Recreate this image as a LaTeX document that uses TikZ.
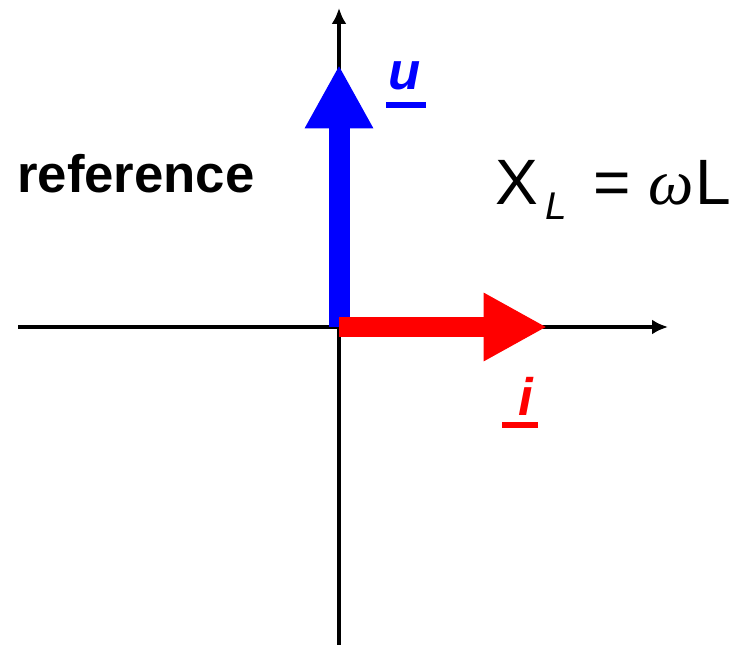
\documentclass[tikz,border=0pt]{standalone}
\usepackage{fontspec}
\setmainfont{Liberation Sans}
\newfontfamily\grkfont{Liberation Serif}
\usetikzlibrary{arrows.meta}
\begin{document}
\begin{tikzpicture}[x=0.02cm, y=-0.02cm,
		axis/.style={line width=2.2pt, -{Latex[length=0.32cm, width=0.3cm]}},
		phasor/.style={line width=0.42cm, -{Triangle[length=1.27cm, width=1.28cm]}},
		lbl/.style={inner sep=0pt, font=\fontsize{30}{36}\selectfont\bfseries\itshape},
		ul/.style={line width=0.12cm}]
		\useasboundingbox (0,0) rectangle (744,645);
		% origin and ends of the axes
		\coordinate (O)  at (339,327);
		\coordinate (xa) at (18,327);
		\coordinate (xb) at (668,327);
		\coordinate (ya) at (339,645);
		\coordinate (yb) at (339,8);
		\draw[axis] (xa) -- (xb);
		\draw[axis] (ya) -- (yb);
		% voltage (up) and current (right)
		\coordinate (ut) at (339,65);
		\coordinate (it) at (547,327);
		\draw[phasor, blue] (O) -- (ut);
		\draw[phasor, red]  (O) -- (it);
		% labels
		\node[lbl, blue, anchor=base west] (u) at (388,90)  {u};
		\node[lbl, red,  anchor=base west] (i) at (518,415) {i};
		\coordinate (u1) at (386,105);
		\coordinate (u2) at (426,105);
		\coordinate (i1) at (502,425);
		\coordinate (i2) at (538,425);
		\draw[ul, blue] (u1) -- (u2);
		\draw[ul, red]  (i1) -- (i2);
		\node[inner sep=0pt, anchor=base east, font=\fontsize{30}{36}\selectfont\bfseries] (ref) at (255,193) {reference};
		\node[inner sep=0pt, anchor=base west, font=\fontsize{36.5}{40}\selectfont] (xl) at (495,205)
			{X\hspace{4pt}\raisebox{-8.5pt}{\fontsize{22}{24}\selectfont\itshape L}\hspace{15pt}=\hspace{10pt}{\grkfont\itshape ω}\hspace{1pt}L};
	\end{tikzpicture}
\end{document}
